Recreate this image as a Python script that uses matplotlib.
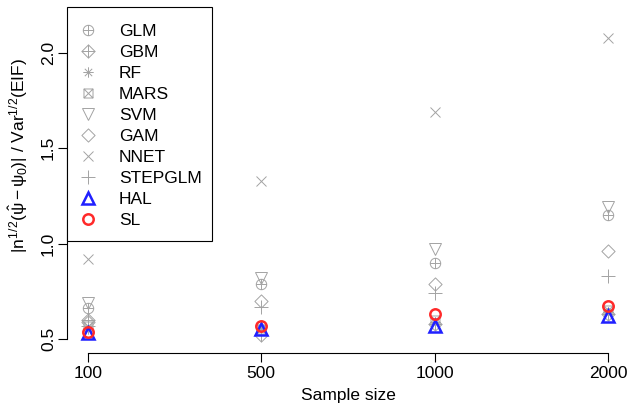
import matplotlib
matplotlib.use("Agg")
import matplotlib.pyplot as plt
from matplotlib.path import Path
from matplotlib.patches import Rectangle

plt.rcParams['font.family'] = 'Liberation Sans'
plt.rcParams['mathtext.fontset'] = 'custom'
plt.rcParams['mathtext.rm'] = 'Liberation Sans'
plt.rcParams['mathtext.it'] = 'Liberation Sans'
plt.rcParams['mathtext.sf'] = 'Liberation Sans'

# Data
sample_sizes = ['100', '500', '1000', '2000']
glm = [0.66, 0.79, 0.90, 1.15]
gbm = [0.60, 0.52, 0.58, 0.63]
rf = [0.55, 0.56, 0.59, 0.64]
mars = [0.57, 0.55, 0.60, 0.65]
svm = [0.69, 0.82, 0.97, 1.19]
gam = [0.59, 0.70, 0.79, 0.96]
nnet = [0.92, 1.33, 1.69, 2.08]
stepglm = [0.57, 0.67, 0.74, 0.83]
hal = [0.53, 0.55, 0.57, 0.62]
sl = [0.535, 0.57, 0.63, 0.675]

# R-like marker shapes
M, L, C = Path.MOVETO, Path.LINETO, Path.CLOSEPOLY
plus = Path([[-1, 0], [1, 0], [0, -1], [0, 1]], [M, L, M, L])
cross = Path([[-.707, -.707], [.707, .707], [-.707, .707], [.707, -.707]], [M, L, M, L])
diamond = Path([[0, 1], [1, 0], [0, -1], [-1, 0], [0, 1]], [M, L, L, L, C])
square = Path([[-1, -1], [1, -1], [1, 1], [-1, 1], [-1, -1]], [M, L, L, L, C])
sq_cross = Path([[-1, -1], [1, 1], [-1, 1], [1, -1]], [M, L, M, L])
circle_plus = Path.make_compound_path(Path.unit_circle(), plus)
diamond_plus = Path.make_compound_path(diamond, plus)
asterisk = Path.make_compound_path(plus, cross)
square_x = Path.make_compound_path(square, sq_cross)

grey = '#a3a3a3'
series = [
    ('GLM', glm, circle_plus, 7.5, grey, 0.7),
    ('GBM', gbm, diamond_plus, 9.5, grey, 0.7),
    ('RF', rf, asterisk, 7.5, grey, 0.7),
    ('MARS', mars, square_x, 6.5, grey, 0.7),
    ('SVM', svm, 'v', 9, grey, 0.7),
    ('GAM', gam, diamond, 9.5, grey, 0.7),
    ('NNET', nnet, 'x', 7, grey, 0.7),
    ('STEPGLM', stepglm, '+', 10, grey, 0.7),
    ('HAL', hal, '^', 8.5, '#2020ff', 1.8),
    ('SL', sl, 'o', 7.5, '#ff2a2a', 1.8),
]

W, H = 628, 405
fig = plt.figure(figsize=(6.28, 4.05), dpi=100)
ax = fig.add_axes([67 / W, 52 / H, 562 / W, 346 / H])

x = list(range(1, len(sample_sizes) + 1))
for name, vals, mk, ms, col, lw in series:
    ax.plot(x, vals, linestyle='none', marker=mk, markersize=ms,
            markerfacecolor='none', markeredgecolor=col, markeredgewidth=lw,
            label=name)

ax.set_xlim(0.88, 4.12)
ax.set_ylim(0.4266, 2.241)

for s in ['top', 'right']:
    ax.spines[s].set_visible(False)
ax.spines['left'].set_bounds(0.5, 2.0)
ax.spines['bottom'].set_bounds(1, 4)
ax.spines['left'].set_linewidth(0.8)
ax.spines['bottom'].set_linewidth(0.8)

ax.set_xticks(x)
ax.set_xticklabels(sample_sizes)
ax.set_yticks([0.5, 1.0, 1.5, 2.0])
ax.set_yticklabels(['0.5', '1.0', '1.5', '2.0'], rotation=90, va='center')
ax.tick_params(axis='both', length=6.5, width=0.8, labelsize=12.5, pad=3)
ax.tick_params(axis='y', pad=1.5)

ax.set_xlabel('Sample size', fontsize=12.5)
ax.xaxis.set_label_coords(0.5, -0.124)
ax.xaxis.label.set_va('center')
ax.set_ylabel(r'$|n^{1/2}(\hat{\psi} - \psi_0)|$ / Var$^{1/2}$(EIF)', fontsize=12.5)
ax.yaxis.set_label_coords(-0.087, 0.572)
ax.yaxis.label.set_va('center')

# legend box (R style: plain rectangle, white fill)
box = Rectangle((67 / W, (H - 241) / H), 145 / W, 234 / H, transform=fig.transFigure,
                facecolor='white', edgecolor='black', linewidth=0.8, zorder=4,
                clip_on=False)
ax.add_patch(box)
leg = ax.legend(loc='upper left', bbox_to_anchor=(67 / W, (H - 15) / H),
                bbox_transform=fig.transFigure, borderaxespad=0,
                fontsize=12.5, frameon=False, borderpad=0.5, handlelength=1.4,
                handletextpad=1.1, labelspacing=0.34)
leg.set_zorder(5)

fig.savefig('out.png', dpi=100)
